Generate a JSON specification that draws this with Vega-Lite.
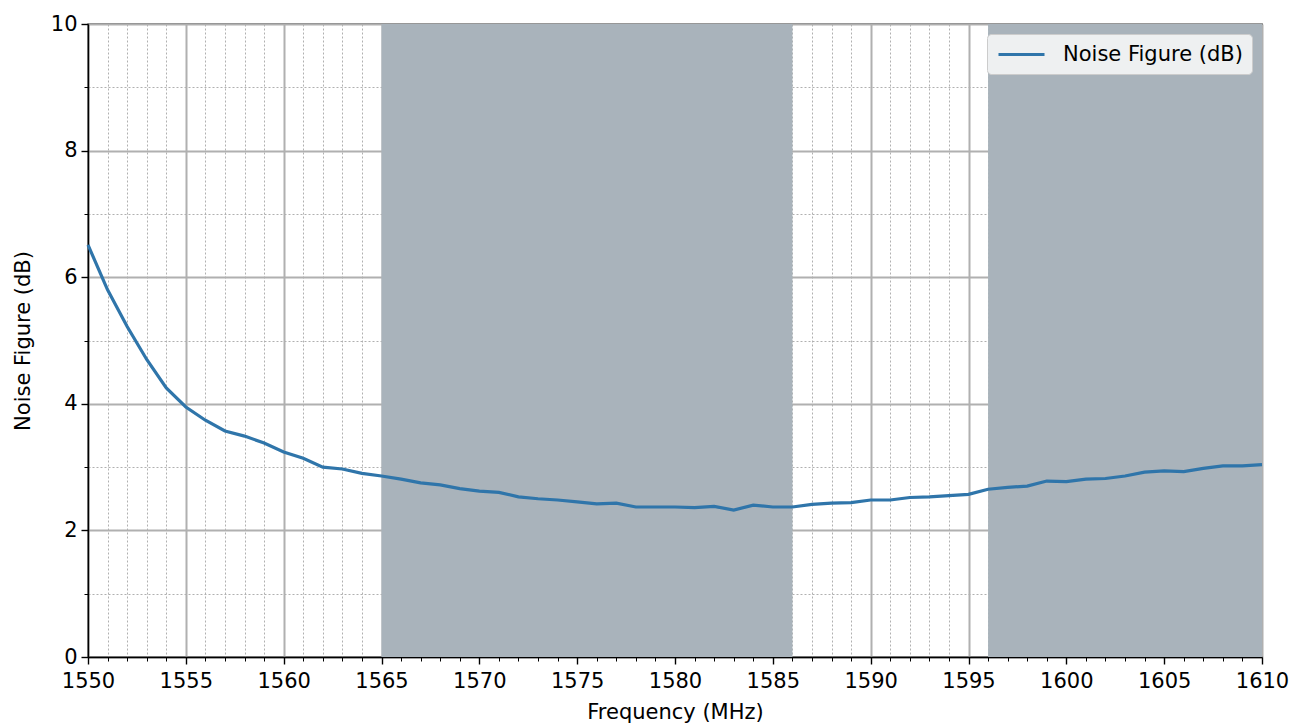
{
  "$schema": "https://vega.github.io/schema/vega-lite/v6.json",
  "width": 1174,
  "height": 633,
  "autosize": "none",
  "padding": {"left": 88, "top": 24, "right": 42, "bottom": 70},
  "background": "white",
  "config": {"view": {"stroke": "black", "strokeWidth": 1.4}, "font": "DejaVu Sans"},
  "datasets": {
    "bands": [{"start": 1565, "end": 1586}, {"start": 1596, "end": 1610}],
    "nf": [
      {"freq": 1550, "nf": 6.51, "series": "Noise Figure (dB)"},
      {"freq": 1551, "nf": 5.8, "series": "Noise Figure (dB)"},
      {"freq": 1552, "nf": 5.22, "series": "Noise Figure (dB)"},
      {"freq": 1553, "nf": 4.7, "series": "Noise Figure (dB)"},
      {"freq": 1554, "nf": 4.25, "series": "Noise Figure (dB)"},
      {"freq": 1555, "nf": 3.95, "series": "Noise Figure (dB)"},
      {"freq": 1556, "nf": 3.74, "series": "Noise Figure (dB)"},
      {"freq": 1557, "nf": 3.57, "series": "Noise Figure (dB)"},
      {"freq": 1558, "nf": 3.49, "series": "Noise Figure (dB)"},
      {"freq": 1559, "nf": 3.38, "series": "Noise Figure (dB)"},
      {"freq": 1560, "nf": 3.24, "series": "Noise Figure (dB)"},
      {"freq": 1561, "nf": 3.14, "series": "Noise Figure (dB)"},
      {"freq": 1562, "nf": 3.0, "series": "Noise Figure (dB)"},
      {"freq": 1563, "nf": 2.97, "series": "Noise Figure (dB)"},
      {"freq": 1564, "nf": 2.9, "series": "Noise Figure (dB)"},
      {"freq": 1565, "nf": 2.86, "series": "Noise Figure (dB)"},
      {"freq": 1566, "nf": 2.81, "series": "Noise Figure (dB)"},
      {"freq": 1567, "nf": 2.75, "series": "Noise Figure (dB)"},
      {"freq": 1568, "nf": 2.72, "series": "Noise Figure (dB)"},
      {"freq": 1569, "nf": 2.66, "series": "Noise Figure (dB)"},
      {"freq": 1570, "nf": 2.62, "series": "Noise Figure (dB)"},
      {"freq": 1571, "nf": 2.6, "series": "Noise Figure (dB)"},
      {"freq": 1572, "nf": 2.53, "series": "Noise Figure (dB)"},
      {"freq": 1573, "nf": 2.5, "series": "Noise Figure (dB)"},
      {"freq": 1574, "nf": 2.48, "series": "Noise Figure (dB)"},
      {"freq": 1575, "nf": 2.45, "series": "Noise Figure (dB)"},
      {"freq": 1576, "nf": 2.42, "series": "Noise Figure (dB)"},
      {"freq": 1577, "nf": 2.43, "series": "Noise Figure (dB)"},
      {"freq": 1578, "nf": 2.37, "series": "Noise Figure (dB)"},
      {"freq": 1579, "nf": 2.37, "series": "Noise Figure (dB)"},
      {"freq": 1580, "nf": 2.37, "series": "Noise Figure (dB)"},
      {"freq": 1581, "nf": 2.36, "series": "Noise Figure (dB)"},
      {"freq": 1582, "nf": 2.38, "series": "Noise Figure (dB)"},
      {"freq": 1583, "nf": 2.32, "series": "Noise Figure (dB)"},
      {"freq": 1584, "nf": 2.4, "series": "Noise Figure (dB)"},
      {"freq": 1585, "nf": 2.37, "series": "Noise Figure (dB)"},
      {"freq": 1586, "nf": 2.37, "series": "Noise Figure (dB)"},
      {"freq": 1587, "nf": 2.41, "series": "Noise Figure (dB)"},
      {"freq": 1588, "nf": 2.43, "series": "Noise Figure (dB)"},
      {"freq": 1589, "nf": 2.44, "series": "Noise Figure (dB)"},
      {"freq": 1590, "nf": 2.48, "series": "Noise Figure (dB)"},
      {"freq": 1591, "nf": 2.48, "series": "Noise Figure (dB)"},
      {"freq": 1592, "nf": 2.52, "series": "Noise Figure (dB)"},
      {"freq": 1593, "nf": 2.53, "series": "Noise Figure (dB)"},
      {"freq": 1594, "nf": 2.55, "series": "Noise Figure (dB)"},
      {"freq": 1595, "nf": 2.57, "series": "Noise Figure (dB)"},
      {"freq": 1596, "nf": 2.65, "series": "Noise Figure (dB)"},
      {"freq": 1597, "nf": 2.68, "series": "Noise Figure (dB)"},
      {"freq": 1598, "nf": 2.7, "series": "Noise Figure (dB)"},
      {"freq": 1599, "nf": 2.78, "series": "Noise Figure (dB)"},
      {"freq": 1600, "nf": 2.77, "series": "Noise Figure (dB)"},
      {"freq": 1601, "nf": 2.81, "series": "Noise Figure (dB)"},
      {"freq": 1602, "nf": 2.82, "series": "Noise Figure (dB)"},
      {"freq": 1603, "nf": 2.86, "series": "Noise Figure (dB)"},
      {"freq": 1604, "nf": 2.92, "series": "Noise Figure (dB)"},
      {"freq": 1605, "nf": 2.94, "series": "Noise Figure (dB)"},
      {"freq": 1606, "nf": 2.93, "series": "Noise Figure (dB)"},
      {"freq": 1607, "nf": 2.98, "series": "Noise Figure (dB)"},
      {"freq": 1608, "nf": 3.02, "series": "Noise Figure (dB)"},
      {"freq": 1609, "nf": 3.02, "series": "Noise Figure (dB)"},
      {"freq": 1610, "nf": 3.04, "series": "Noise Figure (dB)"}
    ]
  },
  "layer": [
    {
      "data": {"name": "bands"},
      "mark": {"type": "rect", "color": "#a9b3bb", "opacity": 1},
      "encoding": {
        "x": {
          "field": "start",
          "type": "quantitative",
          "scale": {"domain": [1550, 1610], "nice": false, "zero": false},
          "axis": {
            "orient": "bottom",
            "values": [1551,1552,1553,1554,1556,1557,1558,1559,1561,1562,1563,1564,1566,1567,1568,1569,1571,1572,1573,1574,1576,1577,1578,1579,1581,1582,1583,1584,1586,1587,1588,1589,1591,1592,1593,1594,1596,1597,1598,1599,1601,1602,1603,1604,1606,1607,1608,1609],
            "grid": true,
            "gridDash": [2, 2],
            "gridColor": "#b0b0b0",
            "gridWidth": 1,
            "labels": false,
            "ticks": true,
            "tickSize": 4,
            "tickColor": "black",
            "tickWidth": 1,
            "domain": false,
            "title": null
          }
        },
        "x2": {"field": "end"},
        "y": {
          "datum": 0,
          "type": "quantitative",
          "scale": {"domain": [0, 10], "nice": false},
          "axis": {
            "orient": "left",
            "values": [1, 3, 5, 7, 9],
            "grid": true,
            "gridDash": [2, 2],
            "gridColor": "#b0b0b0",
            "gridWidth": 1,
            "labels": false,
            "ticks": true,
            "tickSize": 4,
            "tickColor": "black",
            "tickWidth": 1,
            "domain": false,
            "title": null
          }
        },
        "y2": {"datum": 10}
      }
    },
    {
      "data": {"name": "nf"},
      "mark": {"type": "line", "strokeWidth": 3.2},
      "encoding": {
        "x": {
          "field": "freq",
          "type": "quantitative",
          "axis": {
            "orient": "bottom",
            "values": [1550,1555,1560,1565,1570,1575,1580,1585,1590,1595,1600,1605,1610],
            "format": "d",
            "labelFlush": false,
            "grid": true,
            "gridColor": "#b0b0b0",
            "gridWidth": 2,
            "domainColor": "black",
            "domainWidth": 1.4,
            "tickColor": "black",
            "tickWidth": 1.4,
            "tickSize": 7,
            "labelFontSize": 21,
            "labelColor": "black",
            "labelPadding": 6,
            "title": "Frequency (MHz)",
            "titleFontSize": 21,
            "titleFontWeight": "normal",
            "titleColor": "black",
            "titlePadding": 10
          }
        },
        "y": {
          "field": "nf",
          "type": "quantitative",
          "axis": {
            "orient": "left",
            "values": [0, 2, 4, 6, 8, 10],
            "grid": true,
            "gridColor": "#b0b0b0",
            "gridWidth": 2,
            "domainColor": "black",
            "domainWidth": 1.4,
            "tickColor": "black",
            "tickWidth": 1.4,
            "tickSize": 7,
            "labelFontSize": 21,
            "labelColor": "black",
            "labelPadding": 4,
            "title": "Noise Figure (dB)",
            "titleFontSize": 21,
            "titleFontWeight": "normal",
            "titleColor": "black",
            "titlePadding": 17
          }
        },
        "color": {
          "field": "series",
          "type": "nominal",
          "scale": {"range": ["#2f75aa"]},
          "legend": {
            "title": null,
            "orient": "top-right",
            "offset": 10,
            "symbolType": "M-2.3,0H2.3",
            "symbolStrokeWidth": 3,
            "symbolSize": 400,
            "symbolOffset": 14,
            "labelFontSize": 21,
            "labelLimit": 400,
            "labelColor": "black",
            "labelOffset": 30,
            "fillColor": "rgba(255,255,255,0.8)",
            "strokeColor": "#cccccc",
            "padding": 9,
            "cornerRadius": 4
          }
        }
      }
    }
  ],
  "resolve": {"axis": {"x": "independent", "y": "independent"}}
}
